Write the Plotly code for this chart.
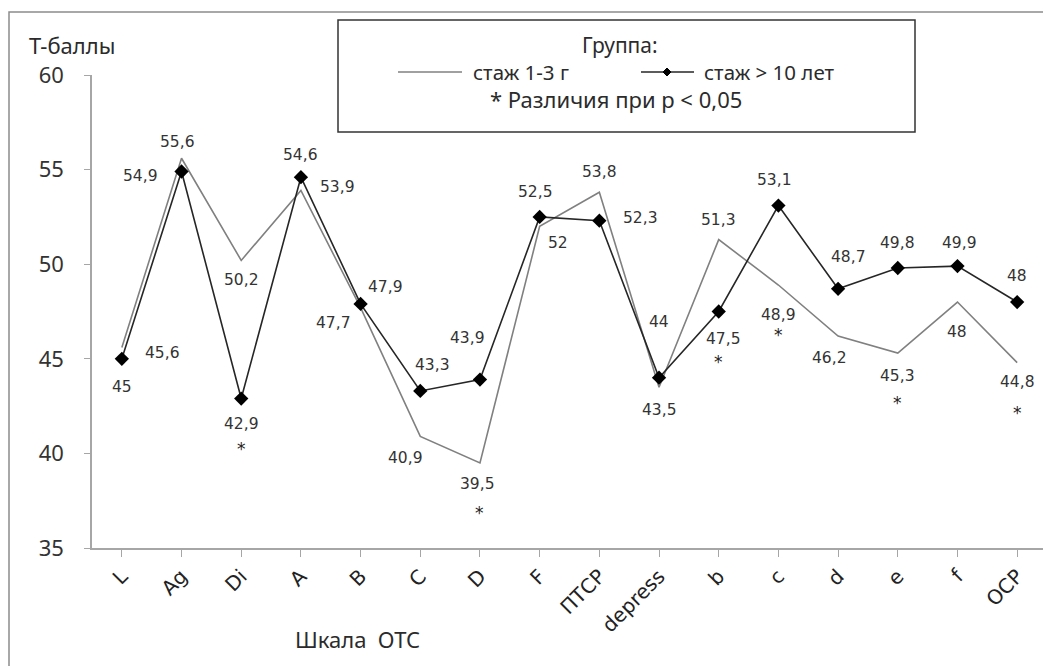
import plotly.graph_objects as go

categories = ["L", "Ag", "Di", "A", "B", "C", "D", "F", "ПТСР", "depress",
              "b", "c", "d", "e", "f", "ОСР"]
stazh_1_3 = [45.6, 55.6, 50.2, 53.9, 47.7, 40.9, 39.5, 52.0, 53.8, 43.5,
             51.3, 48.9, 46.2, 45.3, 48.0, 44.8]
stazh_10 = [45.0, 54.9, 42.9, 54.6, 47.9, 43.3, 43.9, 52.5, 52.3, 44.0,
            47.5, 53.1, 48.7, 49.8, 49.9, 48.0]
significant = [False, False, True, False, False, False, True, False, False, False,
               True, True, False, True, False, True]
y_ticks = [35, 40, 45, 50, 55, 60]

# label offsets in pixels (style only)
off_1_3 = [(41, 6), (-4, -16), (0, 20), (37, -3), (-27, 15), (-15, 22), (-2, 21),
           (18, 17), (0, -20), (0, 23), (0, -20), (0, 30), (-9, 22), (0, 23),
           (0, 30), (0, 19)]
off_10 = [(0, 28), (-41, 5), (0, 25), (0, -22), (25, -17), (12, -26), (-12, -42),
          (-4, -25), (41, -3), (0, -56), (5, 27), (-4, -26), (10, -32), (0, -25),
          (2, -23), (0, -26)]


def fmt(v):
    return ("%g" % v).replace(".", ",")


# screen-pixel helpers (plot area spans x 92..1047, y 75..548 on screen)
def px(xp):
    return (xp - 92) / 955


def py(yp):
    return (548 - yp) / 473


fig = go.Figure()
fig.add_trace(go.Scatter(x=categories, y=stazh_1_3, mode="lines",
                         line=dict(color="#808080", width=1.6),
                         name="стаж 1-3 г", showlegend=False))
fig.add_trace(go.Scatter(x=categories, y=stazh_10, mode="lines+markers",
                         line=dict(color="#262626", width=1.6),
                         marker=dict(symbol="diamond", size=11, color="black"),
                         name="стаж > 10 лет", showlegend=False))

ann = []
lab_font = dict(family="DejaVu Sans", size=15.5, color="#333333")
for i, c in enumerate(categories):
    ann.append(dict(x=c, y=stazh_1_3[i], text=fmt(stazh_1_3[i]), showarrow=False,
                    xanchor="center", yanchor="middle",
                    xshift=off_1_3[i][0], yshift=-off_1_3[i][1], font=lab_font))
    ann.append(dict(x=c, y=stazh_10[i], text=fmt(stazh_10[i]), showarrow=False,
                    xanchor="center", yanchor="middle",
                    xshift=off_10[i][0], yshift=-off_10[i][1], font=lab_font))
    if significant[i]:
        ann.append(dict(x=c, y=min(stazh_1_3[i], stazh_10[i]), text="*",
                        showarrow=False, yshift=-50, xanchor="center",
                        yanchor="middle",
                        font=dict(family="DejaVu Sans", size=17, color="#222")))

ui_font = "Noto Sans"
ui_size = 21


def paper_text(x, y, text, xanchor="center", size=ui_size):
    ann.append(dict(xref="paper", yref="paper", x=px(x), y=py(y), text=text,
                    showarrow=False, xanchor=xanchor, yanchor="middle",
                    font=dict(family=ui_font, size=size, color="#2b2b2b")))


paper_text(27, 45, "Т-баллы", "left", 22)
paper_text(357, 639, "Шкала  ОТС", "center", 22)
paper_text(620, 45, "Группа:")
paper_text(471, 72, "стаж 1-3 г", "left", 20.5)
paper_text(702, 72, "стаж > 10 лет", "left", 20.5)
paper_text(616, 99, "* Различия при р < 0,05", "center", 22)

shapes = [
    # outer border
    dict(type="rect", xref="paper", yref="paper", x0=px(9), x1=px(1070),
         y0=py(690), y1=py(12), line=dict(color="#8c8c8c", width=1.5)),
    # legend box
    dict(type="rect", xref="paper", yref="paper", x0=px(338), x1=px(915),
         y0=py(132), y1=py(20), line=dict(color="#333333", width=1.5),
         fillcolor="rgba(255,255,255,0)"),
    # legend sample lines
    dict(type="line", xref="paper", yref="paper", x0=px(398), x1=px(462),
         y0=py(72), y1=py(72), line=dict(color="#808080", width=1.6)),
    dict(type="line", xref="paper", yref="paper", x0=px(641), x1=px(694),
         y0=py(72), y1=py(72), line=dict(color="#262626", width=1.6)),
    # legend diamond marker
    dict(type="path", xref="paper", yref="paper", xsizemode="pixel",
         ysizemode="pixel", xanchor=px(667), yanchor=py(72),
         path="M 0 4 L 4 0 L 0 -4 L -4 0 Z", fillcolor="black",
         line=dict(color="black", width=1)),
]

fig.update_layout(
    width=1043, height=658,
    margin=dict(l=84, r=4, t=67, b=118),
    paper_bgcolor="white", plot_bgcolor="white",
    annotations=ann, shapes=shapes,
    xaxis=dict(range=[-0.5, 15.5], showgrid=False, showline=True,
               linecolor="#a6a6a6", linewidth=1.5, ticks="outside",
               ticklen=7, tickcolor="#a6a6a6", tickangle=-45,
               tickfont=dict(family="DejaVu Sans", size=20, color="#222"),
               zeroline=False, fixedrange=True),
    yaxis=dict(range=[35, 60], tickvals=y_ticks, showgrid=False, showline=True,
               linecolor="#a6a6a6", linewidth=1.5, ticks="outside", ticklen=6,
               tickcolor="#a6a6a6", ticklabelstandoff=16,
               tickfont=dict(family=ui_font, size=22, color="#333"),
               zeroline=False),
)

fig.write_html("out.html")
